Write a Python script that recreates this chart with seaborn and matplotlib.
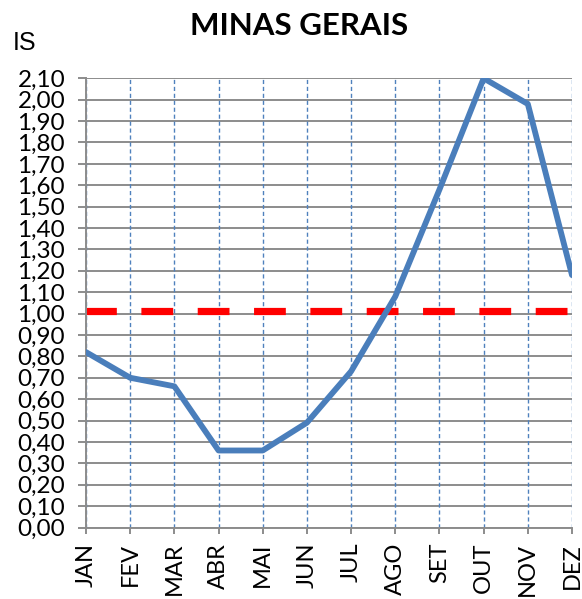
import matplotlib
matplotlib.use("Agg")
import matplotlib.pyplot as plt
import seaborn as sns
import pandas as pd
import numpy as np

months = ["JAN", "FEV", "MAR", "ABR", "MAI", "JUN", "JUL", "AGO", "SET", "OUT", "NOV", "DEZ"]
is_values = [0.82, 0.70, 0.66, 0.36, 0.36, 0.49, 0.73, 1.08, 1.58, 2.10, 1.98, 1.18]
reference_level = 1.01
y_ticks = [round(0.1 * i, 2) for i in range(22)]

sns.set_theme(style="white")
plt.rcParams["font.family"] = ["Lato", "DejaVu Sans"]

df = pd.DataFrame({"pos": np.arange(len(months)), "IS": is_values, "month": months})

fig = plt.figure(figsize=(5.82, 5.99), dpi=100)
ax = fig.add_axes([86 / 582, 1 - 527.5 / 599, (572 - 86) / 582, (527.5 - 78.3) / 599])

# gridlines
for y in y_ticks:
    ax.axhline(y, color="#8c8c8c", lw=1.4, zorder=1)
for x in df["pos"]:
    ax.axvline(x, color="#4F81BD", lw=1.0, ls=(0, (3, 2)), zorder=1)

ax.plot([df["pos"].min(), df["pos"].max()], [reference_level] * 2, color="#FF0000",
        lw=5.2, ls=(0.2, (4.4, 3.4)), solid_capstyle="butt", zorder=2)

sns.lineplot(data=df, x="pos", y="IS", ax=ax, color="#4A7EBB", lw=4.2, zorder=3)

ax.set_xlim(0, len(months) - 1)
ax.set_ylim(0, 2.10)
ax.set_xticks(df["pos"])
ax.set_xticklabels(months, rotation=90, fontsize=17, family=["Lato", "DejaVu Sans"])
ax.set_yticks(y_ticks)
ax.set_yticklabels([f"{v:.2f}".replace(".", ",") for v in y_ticks], fontsize=17.5)
ax.set_xlabel("")
ax.set_ylabel("")

for s in ["top", "right"]:
    ax.spines[s].set_visible(False)
for s in ["left", "bottom"]:
    ax.spines[s].set_color("#8c8c8c")
    ax.spines[s].set_linewidth(1.4)
ax.tick_params(axis="y", which="major", direction="out", length=6, width=1.4,
               color="#8c8c8c", left=True, pad=9, labelcolor="black")
ax.tick_params(axis="x", which="major", direction="out", length=4, width=1.4,
               color="#8c8c8c", bottom=True, pad=7, labelcolor="black")

fig.text(299 / 582, 1 - 26 / 599, "MINAS GERAIS", ha="center", va="center",
         fontsize=22.5, fontweight="bold", color="black")
fig.text(13 / 582, 1 - 43 / 599, "IS", ha="left", va="center", fontsize=18,
         family=["Liberation Sans", "DejaVu Sans"], color="black")

fig.savefig("out.png", dpi=100)
